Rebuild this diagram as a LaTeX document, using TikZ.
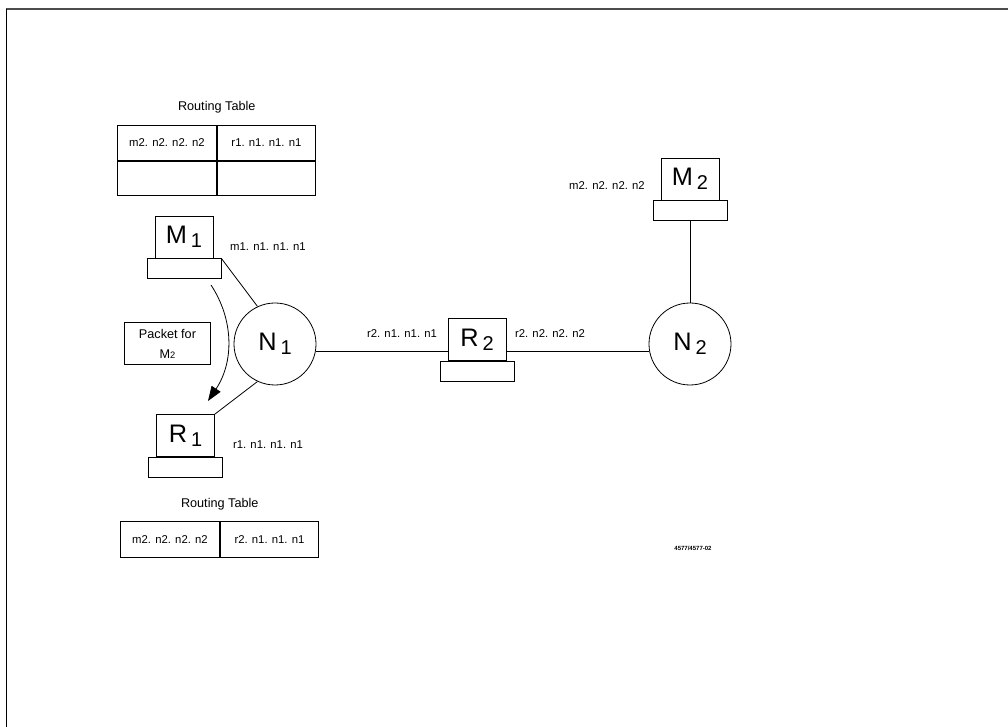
\documentclass[tikz,border=0pt]{standalone}
\usepackage{fontspec}
\setmainfont{Liberation Sans}
\usetikzlibrary{positioning,chains,arrows.meta}

\newcommand{\addrfont}{\fontsize{8.5}{10}\selectfont}
\newcommand{\hostlbl}[2]{{\fontsize{19}{19}\selectfont #1}\hspace{3pt}\raisebox{-3pt}{\fontsize{15}{15}\selectfont #2}}

\tikzset{
  cell/.style={draw,minimum width=74pt,minimum height=26pt,inner sep=0pt,font=\addrfont},
  screen/.style={draw,minimum width=43.5pt,minimum height=31.5pt,inner sep=0pt},
  stand/.style={draw,minimum width=55.5pt,minimum height=15pt,inner sep=0pt},
  net/.style={draw,circle,minimum size=61.5pt,inner sep=0pt},
  addr/.style={font=\addrfont,inner sep=0pt},
  title/.style={font=\fontsize{9.5}{11}\selectfont,inner sep=0pt}
}

\begin{document}
\begin{tikzpicture}[x=0.75pt,y=-0.75pt,line width=0.6pt]
\useasboundingbox (0,0) rectangle (1008,727);
\draw[line width=1.5pt,black!70] (6,9) -- (1008,9);
\draw (6,9) -- (6,727);

% routing table at M1
\begin{scope}[shift={(167,143)},start chain=going right,node distance=0pt]
\foreach \i / \element in {1/{m2. n2. n2. n2},2/{r1. n1. n1. n1}}
  \node [cell,on chain] (ta\i) {\element};
\end{scope}
\foreach \i in {1,2}
  \node [cell,below=0pt of ta\i] (tb\i) {};
\node [title,above=9pt of ta1.north east] (rta) {Routing Table};

% routing table at R1
\begin{scope}[shift={(170,539.5)},start chain=going right,node distance=0pt]
\foreach \i / \element in {1/{m2. n2. n2. n2},2/{r2. n1. n1. n1}}
  \node [cell,on chain,minimum height=27.5pt] (tc\i) {\element};
\end{scope}
\node [title,above=8pt of tc1.north east] (rtc) {Routing Table};

% hosts and networks
\node [screen] (m1) at (184,237) {\hostlbl{M}{1}};
\node [stand,below=0pt of m1] (m1base) {};
\node [addr] (m1addr) at (268,247) {m1. n1. n1. n1};

\node [screen] (r1) at (185.5,435.5) {\hostlbl{R}{1}};
\node [stand,below=0pt of r1] (r1base) {};
\node [addr] (r1addr) at (268,445) {r1. n1. n1. n1};

\node [net] (n1) at (275,344) {\hostlbl{N}{1}};
\node [draw,minimum width=65pt,minimum height=32pt,align=center,
  font=\fontsize{9.5}{15}\selectfont] (pkt) at (167.5,343.5)
  {Packet for\\M{\fontsize{7}{8}\selectfont 2}};

\node [screen] (r2) at (477,339.5) {\hostlbl{R}{2}};
\node [stand,below=0pt of r2] (r2base) {};
\node [addr] (r2addra) at (402,334) {r2. n1. n1. n1};
\node [addr] (r2addrb) at (550,334) {r2. n2. n2. n2};

\node [net] (n2) at (690,344) {\hostlbl{N}{2}};
\node [screen] (m2) at (690,179) {\hostlbl{M}{2}};
\node [stand,below=0pt of m2] (m2base) {};
\node [addr] (m2addr) at (607,186) {m2. n2. n2. n2};

\node [font=\fontsize{4.5}{5}\selectfont\bfseries,inner sep=0pt] (figno) at (693,548) {4577/4577-02};

% links
\draw (m1base.north east) -- (n1.115);
\draw (r1.north east) -- (n1.245);
\draw (n1.-11) -- (n1.-11 -| r2.west);
\draw (n2.191 -| r2.east) -- (n2.191);
\draw (m2base.south) -- (n2.north);

% packet path
\coordinate (pkfrom) at (211,285);
\coordinate (pkto) at (208,401);
\draw [-{Triangle[length=11pt,width=8pt]}] (pkfrom) .. controls (234,320) and (234,362) .. (pkto);

\end{tikzpicture}
\end{document}
